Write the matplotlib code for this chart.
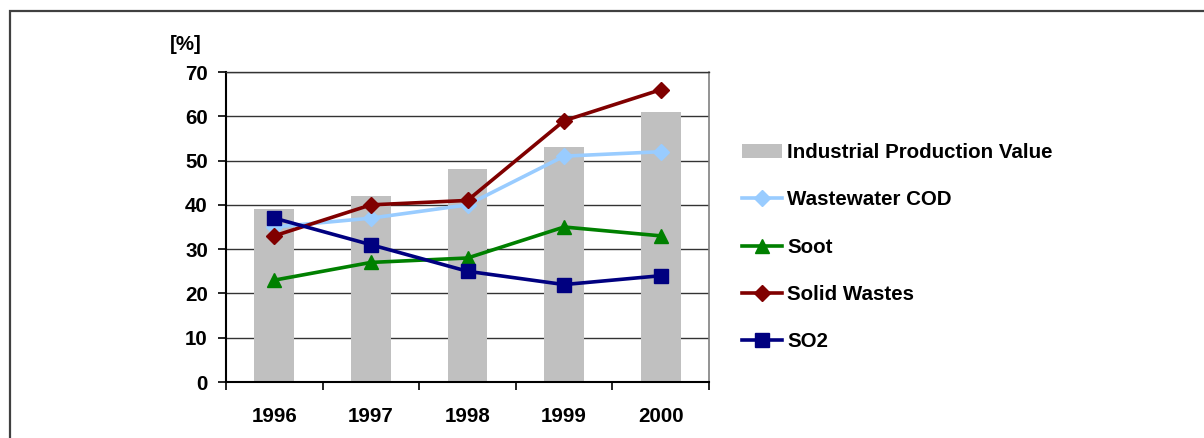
"""
Industrial production value versus pollutant indices, 1996-2000.
"""

import matplotlib
matplotlib.use("Agg")
import matplotlib.pyplot as plt
from matplotlib.patches import Rectangle

years = ["1996", "1997", "1998", "1999", "2000"]
production_value = [39, 42, 48, 53, 61]
wastewater_cod = [35, 37, 40, 51, 52]
soot = [23, 27, 28, 35, 33]
solid_wastes = [33, 40, 41, 59, 66]
so2 = [37, 31, 25, 22, 24]


def plot_chart():
    plt.rcParams["font.family"] = ["Liberation Sans", "DejaVu Sans"]
    plt.rcParams["font.weight"] = "bold"
    fs = 14.8

    fig = plt.figure(figsize=(12.04, 4.38), dpi=100)
    ax = fig.add_axes([226 / 1204, 56 / 438, 483 / 1204, 310 / 438])

    x = list(range(len(years)))
    bars = ax.bar(x, production_value, width=0.41, color="#C0C0C0",
                  label="Industrial Production Value", zorder=2)
    l1, = ax.plot(x, wastewater_cod, color="#99CCFF", lw=2.6, marker="D", ms=8.5,
                  label="Wastewater COD", zorder=3)
    l2, = ax.plot(x, soot, color="#008000", lw=2.6, marker="^", ms=10.5,
                  label="Soot", zorder=3)
    l3, = ax.plot(x, solid_wastes, color="#800000", lw=2.6, marker="D", ms=8.5,
                  label="Solid Wastes", zorder=3)
    l4, = ax.plot(x, so2, color="#000080", lw=2.6, marker="s", ms=9.5,
                  label="SO2", zorder=3)

    ax.set_xlim(-0.5, len(years) - 0.5)
    ax.set_ylim(0, 70)
    ax.set_yticks(range(0, 71, 10))
    ax.yaxis.grid(True, color="#333333", lw=1)
    ax.set_axisbelow(True)

    ax.set_xticks(x)
    ax.set_xticklabels(years)
    ax.set_xticks([i - 0.5 for i in range(len(years) + 1)], minor=True)
    ax.tick_params(axis="x", which="major", length=0, pad=18, labelsize=fs)
    ax.tick_params(axis="x", which="minor", length=6, width=1.2, direction="out")
    ax.tick_params(axis="y", length=6, width=1.2, pad=7, labelsize=fs)

    for side in ["left", "bottom"]:
        ax.spines[side].set_color("black")
        ax.spines[side].set_linewidth(1.5)
    ax.spines["top"].set_color("#333333")
    ax.spines["top"].set_linewidth(1)
    ax.spines["right"].set_color("#808080")
    ax.spines["right"].set_linewidth(1.2)

    fig.text(170 / 1204, (438 - 45) / 438, "[%]", fontsize=fs,
             fontweight="bold", va="center", ha="left")

    ax.legend(handles=[bars, l1, l2, l3, l4],
              loc="upper left", bbox_to_anchor=(742 / 1204, (438 - 143) / 438),
              bbox_transform=fig.transFigure, frameon=False, fontsize=fs,
              handlelength=1.95, handletextpad=0.25, labelspacing=1.38,
              borderaxespad=0, borderpad=0)

    # outer chart frame (only top and left edges fall inside the picture)
    fig.add_artist(Rectangle((9.5 / 1204, -0.2), 1.2, 0.2 + (438 - 10.5) / 438,
                             transform=fig.transFigure, fill=False,
                             edgecolor="#404040", lw=1.6))

    fig.savefig("out.png", dpi=100)


if __name__ == "__main__":
    plot_chart()
